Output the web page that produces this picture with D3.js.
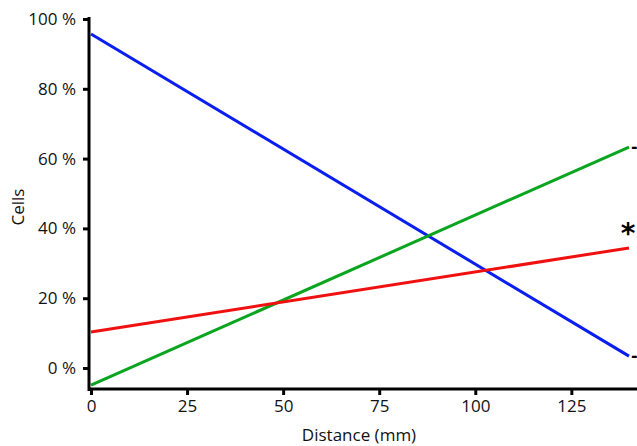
<!DOCTYPE html>
<html>
<body style="margin:0">
<style>
body { background: #fff; }
.axis text { font: 17px "Open Sans", sans-serif; fill: #111; }
.lbl { font: 17px "Open Sans", sans-serif; fill: #111; }
</style>
<script src="https://d3js.org/d3.v7.min.js"></script>
<script>

var width = 637,
    height = 446;

// distance (mm) where each line is sampled
var distance = [0, 140];

// percent of cells at start and end of each line
var blueValues = [95.7, 3.4];
var greenValues = [-4.9, 63.3];
var redValues = [10.3, 34.4];

var seriesNames = ["blue", "green", "red"];
var seriesColors = ["#0a1ef0", "#0aa51e", "#f01010"];

var xTicks = [0, 25, 50, 75, 100, 125];
var yTicks = [0, 20, 40, 60, 80, 100];

// marks at the right edge
var markText = ["-", "*", "-"];
var markValues = [63.3, 40.2, 3.4];

var x = d3.scaleLinear().domain([0, 140]).range([91, 629]);
var y = d3.scaleLinear().domain([0, 100]).range([368, 19]);

var svg = d3.select("body")
    .append("svg")
    .attr("width", width)
    .attr("height", height);

var series = [blueValues, greenValues, redValues];

var line = d3.line()
    .x(function(d, i) { return x(distance[i]); })
    .y(function(d) { return y(d); });

svg.selectAll(".series")
    .data(series)
    .enter()
    .append("path")
    .attr("class", "series")
    .attr("d", line)
    .attr("fill", "none")
    .attr("stroke", function(d, i) { return seriesColors[i]; })
    .attr("stroke-width", 3);

// y axis
var yAxis = svg.append("g")
    .attr("class", "axis")
    .attr("transform", "translate(89,0)")
    .call(d3.axisLeft(y).tickValues(yTicks).tickSize(6).tickSizeOuter(0)
      .tickPadding(7).tickFormat(function(d) { return d + " %"; }));
yAxis.select(".domain").remove();
yAxis.selectAll(".tick line").attr("stroke", "#000").attr("stroke-width", 3);

svg.append("line")
    .attr("x1", 89).attr("x2", 89)
    .attr("y1", 17).attr("y2", 391)
    .attr("stroke", "#000").attr("stroke-width", 3);

// x axis
var xAxis = svg.append("g")
    .attr("class", "axis")
    .attr("transform", "translate(0,389)")
    .call(d3.axisBottom(x).tickValues(xTicks).tickSize(6).tickSizeOuter(0).tickPadding(5));
xAxis.select(".domain").remove();
xAxis.selectAll(".tick line").attr("stroke", "#000").attr("stroke-width", 3);

svg.append("line")
    .attr("x1", 88).attr("x2", width)
    .attr("y1", 389).attr("y2", 389)
    .attr("stroke", "#000").attr("stroke-width", 3);

svg.append("text")
    .attr("class", "lbl")
    .attr("x", 359)
    .attr("y", 441)
    .attr("text-anchor", "middle")
    .text("Distance (mm)");

svg.append("text")
    .attr("class", "lbl")
    .attr("transform", "translate(24,207) rotate(-90)")
    .attr("text-anchor", "middle")
    .text("Cells");

svg.selectAll(".mark")
    .data(markText)
    .enter()
    .append("text")
    .attr("class", "mark")
    .attr("x", function(d) { return d === "*" ? 628 : 631; })
    .attr("y", function(d, i) { return y(markValues[i]); })
    .attr("dy", function(d) { return d === "*" ? "0.56em" : "0.32em"; })
    .attr("text-anchor", function(d) { return d === "*" ? "middle" : "start"; })
    .style("font", function(d) { return d === "*" ? "bold 28px 'DejaVu Sans', sans-serif" : "bold 16px 'DejaVu Sans', sans-serif"; })
    .text(function(d) { return d; });

</script>
</body>
</html>
